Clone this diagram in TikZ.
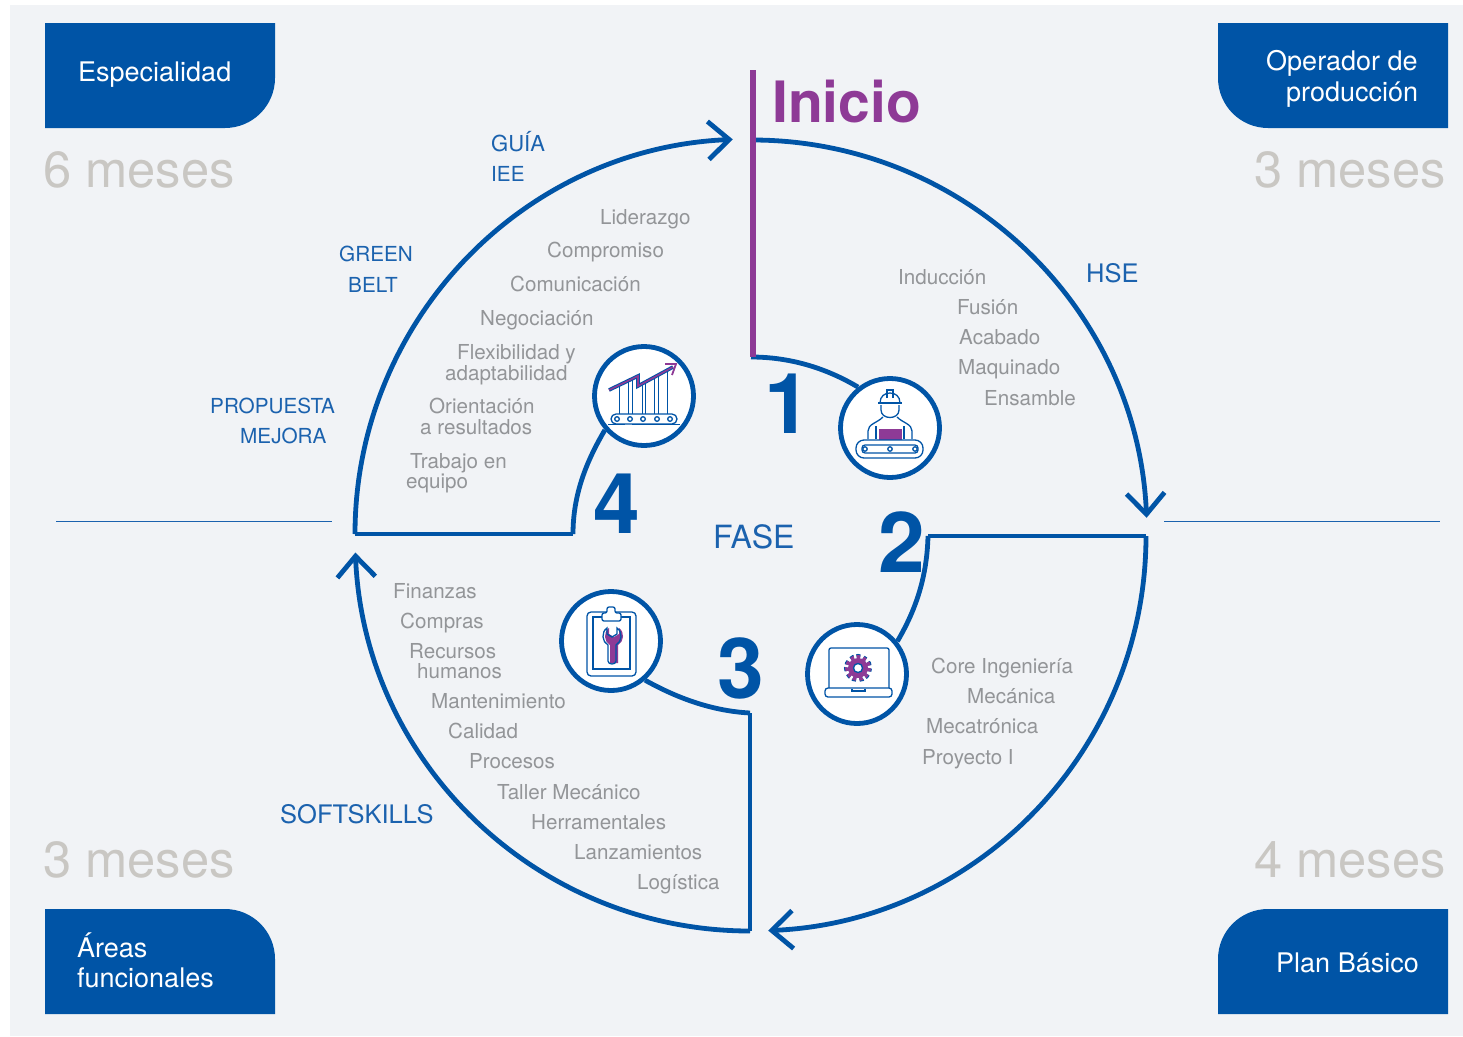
\documentclass[tikz,border=0pt]{standalone}
\usepackage{fontspec}
\setmainfont{TeX Gyre Heros}
\usepackage{xcolor}
\usepackage{tikz}
\usetikzlibrary{arrows.meta}
\definecolor{planblue}{HTML}{0054A6}
\definecolor{labelblue}{HTML}{1B62AE}
\definecolor{planpurple}{HTML}{8E3A96}
\definecolor{planback}{HTML}{F1F3F6}
\definecolor{itemgrey}{HTML}{939598}
\definecolor{timegrey}{HTML}{C9C7C3}
\tikzset{
  ring/.style={draw=planblue,line width=4.8pt},
  ringarrow/.style={ring,-{Straight Barb[length=21pt,width=38pt,line width=4.8pt]}},
  iconcircle/.style={circle,draw=planblue,line width=4.8pt,fill=white,minimum size=99pt,inner sep=0pt},
  iconline/.style={draw=planblue,line width=1.3pt},
  itemlabel/.style={anchor=base west,inner sep=0pt,text=itemgrey,font=\fontsize{20.6}{20.6}\selectfont},
  tracklabel/.style={anchor=base west,inner sep=0pt,text=labelblue,font=\fontsize{20.7}{20.7}\selectfont},
  timelabel/.style={anchor=base west,inner sep=0pt,text=timegrey,font=\fontsize{50.7}{50.7}\selectfont},
  boxlabel/.style={anchor=base west,inner sep=0pt,text=white,font=\fontsize{27}{27}\selectfont},
  phasenum/.style={anchor=base,inner sep=0pt,text=planblue,font=\bfseries\fontsize{84}{84}\selectfont},
}
\begin{document}
\begin{tikzpicture}[x=1pt,y=-1pt]
    \useasboundingbox (0,0) rectangle (1463,1036);
    \fill[white] (0,0) rectangle (1463,1036);
    \fill[planback] (10,5) rectangle (1463,1036);

    % corner boxes
    \fill[planblue] (45,23)--(275,23)--(275,78) arc[start angle=0,end angle=90,radius=50]--(45,128)--cycle;
    \fill[planblue] (1448,23)--(1218,23)--(1218,78) arc[start angle=180,end angle=90,radius=50]--(1448,128)--cycle;
    \fill[planblue] (45,1014)--(275,1014)--(275,959) arc[start angle=0,end angle=-90,radius=50]--(45,909)--cycle;
    \fill[planblue] (1448,1014)--(1218,1014)--(1218,959) arc[start angle=180,end angle=270,radius=50]--(1448,909)--cycle;
    \node[boxlabel] (boxa) at (78,81) {Especialidad};
    \node[boxlabel] (boxb1) at (1266,70) {Operador de};
    \node[boxlabel] (boxb2) at (1286,101) {producción};
    \node[boxlabel] (boxc1) at (77,957) {Áreas};
    \node[boxlabel] (boxc2) at (77,987) {funcionales};
    \node[boxlabel] (boxd) at (1276,972) {Plan Básico};

    \node[timelabel] (timea) at (43,187) {6 meses};
    \node[timelabel] (timeb) at (1254,187) {3 meses};
    \node[timelabel] (timec) at (43,877) {3 meses};
    \node[timelabel] (timed) at (1254,877) {4 meses};

    \draw[labelblue,line width=1pt] (56,521)--(332,521);
    \draw[labelblue,line width=1pt] (1164,521)--(1440,521);

    % icon circles
    \node[iconcircle] (iconone) at (890,428) {};
    \node[iconcircle] (icontwo) at (857,674) {};
    \node[iconcircle] (iconthree) at (611,641) {};
    \node[iconcircle] (iconfour) at (644,396) {};

    % ring
    \coordinate (startone) at (751,357);
    \coordinate (starttwo) at (928,536);
    \coordinate (startthree) at (750,713);
    \coordinate (startfour) at (573,534);
    \draw[ring] (startone) .. controls (790,357) and (826,368) .. (iconone.128);
    \draw[ring] (starttwo)  .. controls (927,575) and (917,608) .. (icontwo.39);
    \draw[ring] (startthree) .. controls (712,711) and (677,698) .. (iconthree.-49);
    \draw[ring] (startfour) .. controls (573,495) and (586,462) .. (iconfour.221);
    \draw[ringarrow] (752,140) arc[start angle=-90,end angle=-2.5,radius=395];
    \draw[ring,line join=miter] (starttwo)--(1146,536);
    \draw[ringarrow] (1146,536) arc[start angle=0,end angle=87.5,radius=395];
    \draw[ring] (startthree)--(750,931);
    \draw[ringarrow] (750,931) arc[start angle=90,end angle=177.6,radius=395];
    \draw[ring] (startfour)--(355,534);
    \draw[ringarrow] (355,534) arc[start angle=180,end angle=267.5,radius=395];
    \draw[planpurple,line width=6pt] (753,70)--(753,357);

    % worker icon
    \fill[planpurple] (879,429) rectangle (902,440);
    \draw[iconline] (878,403)--(902,403);
    \draw[iconline] (880,403) .. controls (880,396) and (885,393) .. (890,393) .. controls (895,393) and (900,396) .. (900,403);
    \draw[iconline] (887,398)--(887,390)--(893,390)--(893,398);
    \draw[iconline] (881,405)--(881,410) .. controls (881,420) and (899,420) .. (899,410)--(899,405);
    \draw[iconline] (868,439)--(868,431) .. controls (868,424) and (877,423) .. (883,417);
    \draw[iconline] (912,439)--(912,431) .. controls (912,424) and (903,423) .. (897,417);
    \draw[iconline] (876,439)--(876,426);
    \draw[iconline] (904,439)--(904,426);
    \draw[iconline,rounded corners=8pt] (856,440) rectangle (923,458);
    \draw[iconline,rounded corners=3pt] (862,445) rectangle (918,453);
    \fill[white] (865,449) circle (2.5);
    \draw[iconline] (865,449) circle (2.2);
    \fill[white] (890,449) circle (2.5);
    \draw[iconline] (890,449) circle (2.2);
    \fill[white] (915,449) circle (2.5);
    \draw[iconline] (915,449) circle (2.2);

    % laptop icon
    \draw[iconline,rounded corners=2pt] (829,688)--(829,648)--(889,648)--(889,688);
    \draw[iconline,rounded corners=3pt] (825,688) rectangle (892,697);
    \draw[iconline] (852,689)--(852,691)--(865,691)--(865,689);
    \draw[planblue,line width=7pt,dash pattern=on 3.2pt off 2.8pt] (858,668) circle (10.5);
    \draw[planpurple,line width=5pt,dash pattern=on 3.2pt off 2.8pt] (858,668) circle (10.5);
    \fill[planpurple] (858,668) circle (10);
    \draw[iconline,fill=white] (858,668) circle (4.5);

    % clipboard icon
    \draw[iconline,rounded corners=4pt] (587,612) rectangle (636,676);
    \draw[iconline] (593,617) rectangle (630,669);
    \draw[iconline,fill=white,rounded corners=2pt] (602,621)--(602,613)--(607,613)--(607,607)--(615,607)--(615,613)--(621,613)--(621,621)--cycle;
    \fill[planpurple] (609,628) .. controls (603,632) and (604,642) .. (610,645)--(610,663)--(618,663)--(618,645) .. controls (624,642) and (625,632) .. (619,628)--(619,634)--(614,637)--(609,634)--cycle;
    \draw[iconline] (607,628) .. controls (601,632) and (602,642) .. (608,645)--(608,661) .. controls (608,665) and (616,665) .. (616,661)--(616,645) .. controls (622,642) and (623,632) .. (617,628)--(617,634)--(612,637)--(607,634)--cycle;

    % chart icon
    \draw[iconline,line width=0.9pt] (619,384)--(619,414);
    \draw[iconline,line width=0.9pt] (628,380)--(628,414);
    \draw[iconline,line width=0.9pt] (632,378)--(632,414);
    \draw[iconline,line width=0.9pt] (642,384)--(642,414);
    \draw[iconline,line width=0.9pt] (645,382)--(645,414);
    \draw[iconline,line width=0.9pt] (654,377)--(654,414);
    \draw[iconline,line width=0.9pt] (658,375)--(658,414);
    \draw[iconline,line width=0.9pt] (667,371)--(667,414);
    \draw[planblue,line width=3.6pt,line join=miter] (609,390)--(638,376)--(638,386)--(673,367);
    \draw[planpurple,line width=1.6pt,line join=miter] (609,390)--(638,376)--(638,386)--(673,367);
    \draw[planpurple,line width=1.8pt] (665,364)--(676,364)--(672,375);
    \draw[iconline,rounded corners=5pt] (611,414) rectangle (677,424);
    \draw[iconline] (608,424.5)--(625,424.5);
    \draw[iconline] (632,424.5)--(680,424.5);
    \draw[iconline] (617,419) circle (2.3);
    \draw[iconline] (630,419) circle (2.3);
    \draw[iconline] (643,419) circle (2.3);
    \draw[iconline] (657,419) circle (2.3);
    \draw[iconline] (670,419) circle (2.3);

    % title and phases
    \node[anchor=base west,inner sep=0pt,text=planpurple,font=\bfseries\fontsize{57}{57}\selectfont] (inicio) at (772,122) {Inicio};
    \node[phasenum] (numone) at (788,433) {1};
    \node[phasenum] (numtwo) at (902,572) {2};
    \node[phasenum] (numthree) at (741,698) {3};
    \node[phasenum] (numfour) at (617,533) {4};
    \node[tracklabel,font=\fontsize{32}{32}\selectfont] (fase) at (713,548) {FASE};

    % tracks
    \node[tracklabel,font=\fontsize{22}{22}\selectfont] (guia) at (491,151) {GUÍA};
    \node[tracklabel] (iee) at (491,181) {IEE};
    \node[tracklabel] (green) at (339,261) {GREEN};
    \node[tracklabel] (belt) at (348,292) {BELT};
    \node[tracklabel] (propuesta) at (210,413) {PROPUESTA};
    \node[tracklabel] (mejora) at (240,443) {MEJORA};
    \node[tracklabel,font=\fontsize{25.5}{25.5}\selectfont] (hse) at (1086,282) {HSE};
    \node[tracklabel,font=\fontsize{25.5}{25.5}\selectfont] (soft) at (280,823) {SOFTSKILLS};

    % phase 1 items
    \node[itemlabel] (ind) at (898,284) {Inducción};
    \node[itemlabel] (fus) at (957,314) {Fusión};
    \node[itemlabel] (aca) at (959,344) {Acabado};
    \node[itemlabel] (maq) at (958,374) {Maquinado};
    \node[itemlabel] (ens) at (984,405) {Ensamble};

    % phase 2 items
    \node[itemlabel] (cor) at (931,673) {Core Ingeniería};
    \node[itemlabel] (mec) at (967,703) {Mecánica};
    \node[itemlabel] (mtr) at (926,733) {Mecatrónica};
    \node[itemlabel] (pro) at (922,764) {Proyecto I};

    % phase 3 items
    \node[itemlabel] (fin) at (393,598) {Finanzas};
    \node[itemlabel] (com) at (400,628) {Compras};
    \node[itemlabel] (rec) at (409,658) {Recursos};
    \node[itemlabel] (hum) at (417,678) {humanos};
    \node[itemlabel] (man) at (431,708) {Mantenimiento};
    \node[itemlabel] (cal) at (448,738) {Calidad};
    \node[itemlabel] (prc) at (469,768) {Procesos};
    \node[itemlabel] (tal) at (497,799) {Taller Mecánico};
    \node[itemlabel] (her) at (531,829) {Herramentales};
    \node[itemlabel] (lan) at (574,859) {Lanzamientos};
    \node[itemlabel] (log) at (637,889) {Logística};

    % phase 4 items
    \node[itemlabel] (lid) at (600,224) {Liderazgo};
    \node[itemlabel] (cmp) at (547,257) {Compromiso};
    \node[itemlabel] (cmn) at (510,291) {Comunicación};
    \node[itemlabel] (neg) at (480,325) {Negociación};
    \node[itemlabel] (fle) at (457,359) {Flexibilidad y};
    \node[itemlabel] (ada) at (445,380) {adaptabilidad};
    \node[itemlabel] (ori) at (429,413) {Orientación};
    \node[itemlabel] (res) at (420,434) {a resultados};
    \node[itemlabel] (tra) at (410,468) {Trabajo en};
    \node[itemlabel] (equ) at (406,488) {equipo};
\end{tikzpicture}
\end{document}
